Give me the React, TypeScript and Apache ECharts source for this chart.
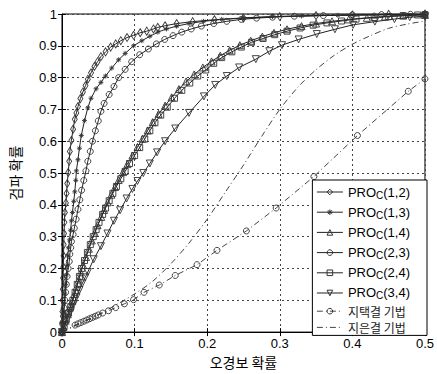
import React, { useEffect, useRef } from "react";
import * as echarts from "echarts";

const xTicks = [0, 0.1, 0.2, 0.3, 0.4, 0.5];
const yTicks = [0, 0.1, 0.2, 0.3, 0.4, 0.5, 0.6, 0.7, 0.8, 0.9, 1];

const seriesNames = [
  "PRO_C(1,2)",
  "PRO_C(1,3)",
  "PRO_C(1,4)",
  "PRO_C(2,3)",
  "PRO_C(2,4)",
  "PRO_C(3,4)",
  "지택결 기법",
  "지은결 기법",
];

const pro12 = [
  [0, 0], [0.0003, 0.03], [0.0006, 0.065], [0.0009, 0.1], [0.0012, 0.135], [0.0015, 0.17],
  [0.0018, 0.205], [0.0021, 0.24], [0.0024, 0.275], [0.0028, 0.31], [0.0033, 0.345],
  [0.004, 0.376], [0.0054, 0.406], [0.0063, 0.436], [0.0072, 0.467], [0.0086, 0.502],
  [0.0099, 0.537], [0.0108, 0.568], [0.013, 0.603], [0.0153, 0.638], [0.0176, 0.669],
  [0.0198, 0.689], [0.022, 0.709], [0.0253, 0.734], [0.0288, 0.755], [0.0324, 0.775],
  [0.0356, 0.795], [0.04, 0.815], [0.0446, 0.835], [0.049, 0.85], [0.0536, 0.866],
  [0.06, 0.881], [0.067, 0.896], [0.074, 0.906], [0.081, 0.916], [0.0896, 0.926],
  [0.0986, 0.933], [0.1077, 0.941], [0.1167, 0.946], [0.126, 0.953], [0.132, 0.958],
  [0.142, 0.963], [0.158, 0.97], [0.18, 0.976], [0.21, 0.982], [0.25, 0.987],
  [0.3, 0.992], [0.35, 0.995], [0.4, 0.997], [0.45, 0.999], [0.5, 1.0],
];

const pro13 = [
  [0, 0], [0.001, 0.03], [0.002, 0.06], [0.003, 0.09], [0.004, 0.12], [0.005, 0.15],
  [0.006, 0.18], [0.007, 0.21], [0.008, 0.24], [0.009, 0.265], [0.0105, 0.29],
  [0.0118, 0.32], [0.013, 0.35], [0.0144, 0.376], [0.0162, 0.411], [0.0176, 0.441],
  [0.019, 0.477], [0.0198, 0.507], [0.022, 0.542], [0.024, 0.578], [0.0266, 0.618],
  [0.031, 0.665], [0.0356, 0.705], [0.04, 0.735], [0.047, 0.765], [0.0536, 0.785],
  [0.06, 0.805], [0.0685, 0.83], [0.078, 0.856], [0.087, 0.876], [0.0986, 0.9],
  [0.11, 0.916], [0.121, 0.93], [0.132, 0.943], [0.144, 0.953], [0.158, 0.962],
  [0.175, 0.97], [0.195, 0.977], [0.22, 0.983], [0.25, 0.988], [0.29, 0.992],
  [0.33, 0.994], [0.38, 0.996], [0.43, 0.997], [0.47, 0.998], [0.5, 0.999],
];

const pro14 = [
  [0, 0], [0.002, 0.016], [0.005, 0.036], [0.008, 0.056], [0.011, 0.077], [0.014, 0.098],
  [0.017, 0.12], [0.02, 0.142], [0.023, 0.165], [0.026, 0.188], [0.029, 0.211],
  [0.033, 0.236], [0.037, 0.262], [0.041, 0.288], [0.045, 0.312], [0.049, 0.336],
  [0.054, 0.362], [0.058, 0.384], [0.063, 0.408], [0.068, 0.432], [0.073, 0.456],
  [0.078, 0.478], [0.084, 0.503], [0.09, 0.528], [0.097, 0.555], [0.104, 0.582],
  [0.111, 0.608], [0.118, 0.634], [0.125, 0.66], [0.133, 0.686], [0.142, 0.712],
  [0.151, 0.738], [0.161, 0.764], [0.171, 0.788], [0.182, 0.81], [0.194, 0.832],
  [0.206, 0.851], [0.218, 0.869], [0.231, 0.886], [0.245, 0.902], [0.26, 0.916],
  [0.276, 0.929], [0.292, 0.941], [0.31, 0.952], [0.33, 0.962], [0.35, 0.97],
  [0.372, 0.977], [0.395, 0.983], [0.42, 0.988], [0.445, 0.992], [0.47, 0.995], [0.5, 0.997],
];

const pro23 = [
  [0, 0], [0.001, 0.025], [0.002, 0.05], [0.003, 0.075], [0.004, 0.1], [0.005, 0.125],
  [0.006, 0.15], [0.007, 0.175], [0.0085, 0.2], [0.01, 0.222], [0.0108, 0.245],
  [0.012, 0.265], [0.013, 0.285], [0.0153, 0.307], [0.017, 0.327], [0.0195, 0.355],
  [0.022, 0.386], [0.0245, 0.416], [0.027, 0.446], [0.03, 0.477], [0.033, 0.507],
  [0.0356, 0.537], [0.039, 0.568], [0.042, 0.6], [0.046, 0.633], [0.05, 0.664],
  [0.0536, 0.694], [0.058, 0.719], [0.065, 0.747], [0.0716, 0.772], [0.078, 0.8],
  [0.087, 0.826], [0.096, 0.85], [0.107, 0.872], [0.119, 0.89], [0.13, 0.906],
  [0.1415, 0.92], [0.153, 0.932], [0.165, 0.943], [0.178, 0.953], [0.192, 0.962],
  [0.209, 0.97], [0.227, 0.977], [0.247, 0.983], [0.268, 0.987], [0.29, 0.99],
  [0.32, 0.993], [0.36, 0.995], [0.4, 0.997], [0.44, 0.998], [0.48, 0.999], [0.5, 0.999],
];

const pro24 = [
  [0, 0], [0.003, 0.02], [0.006, 0.04], [0.009, 0.06], [0.012, 0.08], [0.015, 0.1],
  [0.018, 0.125], [0.021, 0.15], [0.024, 0.175], [0.027, 0.2], [0.031, 0.225],
  [0.035, 0.25], [0.039, 0.275], [0.043, 0.3], [0.047, 0.322], [0.051, 0.345],
  [0.056, 0.37], [0.06, 0.39], [0.065, 0.413], [0.07, 0.436], [0.075, 0.458],
  [0.081, 0.482], [0.087, 0.505], [0.093, 0.53], [0.1, 0.555], [0.107, 0.58],
  [0.114, 0.607], [0.121, 0.633], [0.128, 0.658], [0.136, 0.682], [0.145, 0.707],
  [0.155, 0.735], [0.165, 0.76], [0.176, 0.783], [0.187, 0.805], [0.198, 0.824],
  [0.209, 0.845], [0.22, 0.863], [0.234, 0.881], [0.247, 0.896], [0.261, 0.911],
  [0.277, 0.923], [0.293, 0.935], [0.31, 0.946], [0.328, 0.956], [0.346, 0.965],
  [0.365, 0.972], [0.385, 0.978], [0.405, 0.984], [0.43, 0.989], [0.45, 0.992],
  [0.47, 0.995], [0.49, 0.997], [0.5, 0.998],
];

const pro34 = [
  [0, 0], [0.004, 0.022], [0.008, 0.044], [0.012, 0.066], [0.016, 0.088], [0.02, 0.11],
  [0.024, 0.132], [0.028, 0.153], [0.032, 0.172], [0.0356, 0.189], [0.0437, 0.229],
  [0.0536, 0.27], [0.0626, 0.31], [0.0716, 0.35], [0.08, 0.383], [0.089, 0.42],
  [0.097, 0.45], [0.104, 0.475], [0.112, 0.5], [0.121, 0.53], [0.131, 0.565],
  [0.142, 0.6], [0.156, 0.64], [0.175, 0.689], [0.1955, 0.741], [0.211, 0.777],
  [0.227, 0.805], [0.244, 0.832], [0.267, 0.858], [0.2856, 0.883], [0.303, 0.902],
  [0.326, 0.92], [0.351, 0.937], [0.376, 0.952], [0.401, 0.966], [0.431, 0.976],
  [0.458, 0.984], [0.479, 0.99], [0.5, 0.993],
];

const jitaek = [
  [0, 0], [0.018, 0.022], [0.022, 0.026], [0.026, 0.03], [0.03, 0.034], [0.034, 0.038],
  [0.038, 0.042], [0.042, 0.046], [0.046, 0.05], [0.05, 0.054], [0.056, 0.06],
  [0.064, 0.067], [0.074, 0.077], [0.086, 0.089], [0.0986, 0.102], [0.113, 0.125],
  [0.134, 0.148], [0.156, 0.178], [0.186, 0.212], [0.2135, 0.257], [0.254, 0.318],
  [0.295, 0.39], [0.347, 0.489], [0.407, 0.618], [0.477, 0.757], [0.5, 0.796],
];

const jieun = [
  [0, 0], [0.05, 0.055], [0.1, 0.12], [0.125, 0.16], [0.15, 0.215], [0.175, 0.28],
  [0.2, 0.355], [0.225, 0.44], [0.25, 0.525], [0.275, 0.615], [0.3, 0.7],
  [0.325, 0.77], [0.35, 0.825], [0.375, 0.87], [0.4, 0.905], [0.425, 0.932],
  [0.45, 0.955], [0.475, 0.968], [0.5, 0.978],
];

const FONT = "'Liberation Sans', Arial, 'Noto Sans CJK KR', sans-serif";
const KFONT = "'Noto Sans CJK KR', sans-serif";
const STAR = "path://M0,-5L0,5M-5,0L5,0M-3.5,-3.5L3.5,3.5M-3.5,3.5L3.5,-3.5";

export default function App() {
  const ref = useRef<HTMLDivElement>(null);
  useEffect(() => {
    if (!ref.current) return;
    const chart = echarts.init(ref.current, null, { renderer: "svg" });
    const lineC = "#222";
    const mk = (name: string, data: number[][], symbol: string, size: any, rotate = 0) => ({
      name,
      type: "line",
      data,
      symbol,
      symbolSize: size,
      symbolRotate: rotate,
      showSymbol: true,
      lineStyle: { color: lineC, width: 1 },
      itemStyle: { color: "rgba(0,0,0,0)", borderColor: "#333", borderWidth: 0.9 },
      emphasis: { disabled: true },
    });
    const option: any = {
      animation: false,
      backgroundColor: "#fff",
      grid: {
        left: 57, right: 10, top: 14, bottom: 30,
        show: true, borderColor: "#000", borderWidth: 1,
      },
      xAxis: [
        {
          type: "value", min: 0, max: 0.5, interval: 0.1,
          name: "오경보 확률", nameLocation: "middle", nameGap: 21,
          nameTextStyle: { fontFamily: KFONT, fontSize: 14, color: "#000" },
          axisLine: { show: true, lineStyle: { color: "#000" } },
          axisTick: { show: true, inside: true, length: 4, lineStyle: { color: "#000" } },
          axisLabel: {
            color: "#000", fontFamily: FONT, fontSize: 13, margin: 5,
            formatter: (v: number) => String(+v.toFixed(1)),
          },
          splitLine: { show: true, lineStyle: { color: "#444", type: [2, 3], width: 1 } },
        },
        {
          type: "value", min: 0, max: 0.5, interval: 0.1, position: "top",
          axisLine: { show: false },
          axisTick: { show: true, inside: true, length: 4, lineStyle: { color: "#000" } },
          axisLabel: { show: false }, splitLine: { show: false },
        },
      ],
      yAxis: [
        {
          type: "value", min: 0, max: 1, interval: 0.1,
          name: "검파 확률", nameLocation: "middle", nameGap: 40,
          nameTextStyle: { fontFamily: KFONT, fontSize: 14, color: "#000" },
          axisLine: { show: true, lineStyle: { color: "#000" } },
          axisTick: { show: true, inside: true, length: 4, lineStyle: { color: "#000" } },
          axisLabel: {
            color: "#000", fontFamily: FONT, fontSize: 13, margin: 5,
            formatter: (v: number) => String(+v.toFixed(1)),
          },
          splitLine: { show: true, lineStyle: { color: "#444", type: [2, 3], width: 1 } },
        },
        {
          type: "value", min: 0, max: 1, interval: 0.1, position: "right",
          axisLine: { show: false },
          axisTick: { show: true, inside: true, length: 4, lineStyle: { color: "#000" } },
          axisLabel: { show: false }, splitLine: { show: false },
        },
      ],
      legend: {
        orient: "vertical",
        right: 10, top: 180,
        itemWidth: 26, itemHeight: 7, itemGap: 4.2,
        padding: [4, 17, 2, 4],
        backgroundColor: "#fff",
        borderColor: "#000", borderWidth: 1, borderRadius: 0,
        lineStyle: { width: 1 },
        itemStyle: { borderWidth: 1 },
        data: seriesNames.map((n, i) =>
          i === 7 ? { name: n, itemStyle: { color: "rgba(0,0,0,0)", borderWidth: 0, borderColor: "rgba(0,0,0,0)" } } : { name: n }
        ),
        formatter: (name: string) => {
          if (name.startsWith("PRO_C")) {
            return "{p|PRO}{s|C}{p|" + name.slice(5) + "}";
          }
          return "{k|" + name + "}";
        },
        textStyle: {
          color: "#000",
          rich: {
            p: { fontFamily: FONT, fontSize: 13, color: "#000", lineHeight: 16 },
            s: { fontFamily: FONT, fontSize: 10, color: "#000", lineHeight: 10, padding: [6, 0, 0, 0] },
            k: { fontFamily: KFONT, fontSize: 12, color: "#222", lineHeight: 15 },
          },
        },
      },
      series: [
        mk(seriesNames[0], pro12, "diamond", [5, 8]),
        mk(seriesNames[1], pro13, STAR, 5),
        mk(seriesNames[2], pro14, "triangle", 7),
        mk(seriesNames[3], pro23, "circle", 6),
        mk(seriesNames[4], pro24, "rect", 6),
        mk(seriesNames[5], pro34, "triangle", 7, 180),
        {
          name: seriesNames[6], type: "line", data: jitaek,
          symbol: "circle", symbolSize: 6, showSymbol: true,
          lineStyle: { color: "#444", width: 1, type: [6, 3, 1, 3] },
          itemStyle: { color: "rgba(0,0,0,0)", borderColor: "#333", borderWidth: 0.9 },
          emphasis: { disabled: true },
        },
        {
          name: seriesNames[7], type: "line", data: jieun, smooth: 0.3,
          symbol: "none", showSymbol: false,
          lineStyle: { color: "#444", width: 1, type: [6, 3, 1, 3] },
          itemStyle: { color: "#444" },
          emphasis: { disabled: true },
        },
      ],
    };
    chart.setOption(option);
    return () => chart.dispose();
  }, []);
  return (
    <div
      ref={ref}
      style={{ position: "fixed", left: 0, top: 0, width: 437, height: 374, background: "#fff" }}
    />
  );
}
